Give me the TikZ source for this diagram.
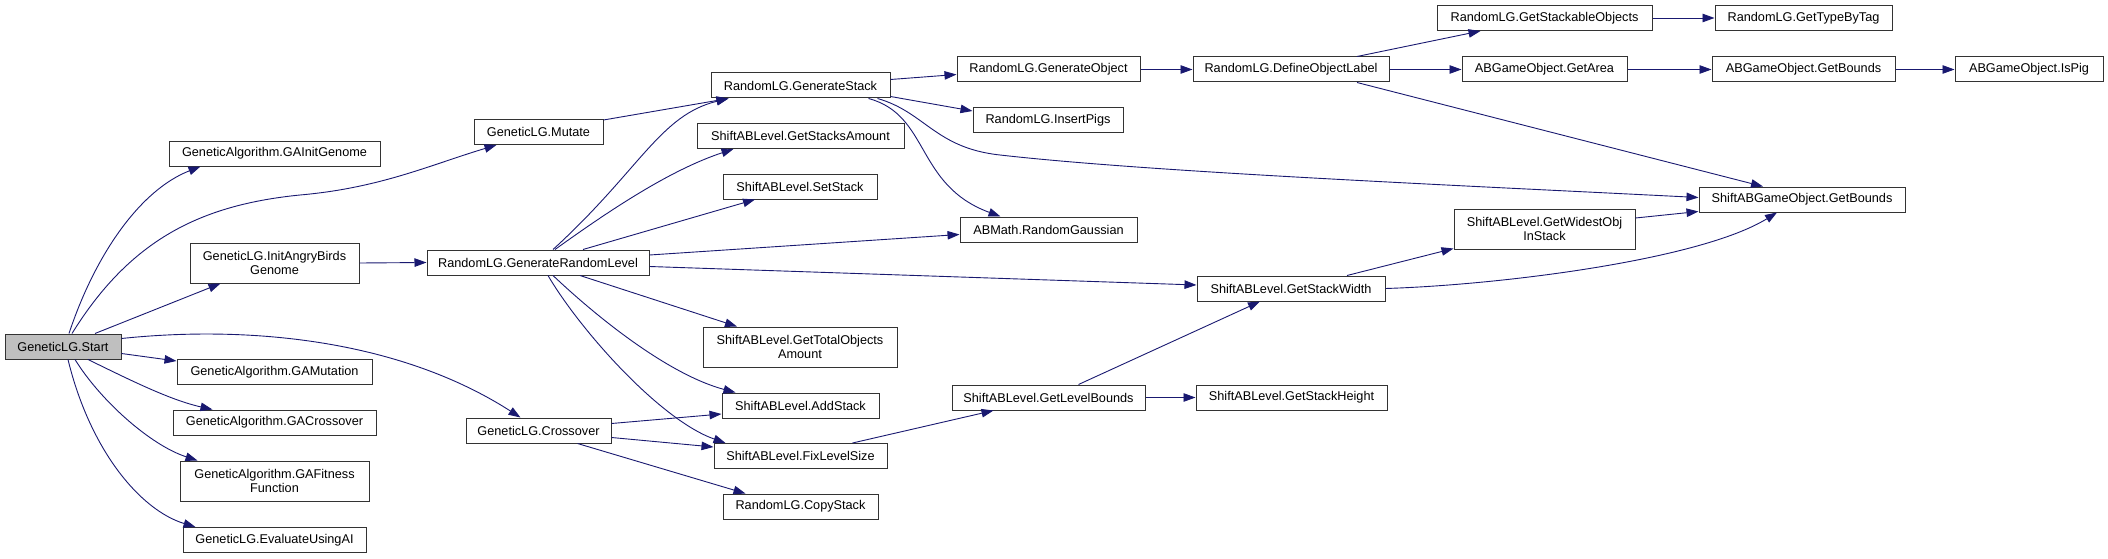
\documentclass[tikz,border=0pt]{standalone}
\usepackage{fontspec}
\setmainfont{Liberation Sans}
\usepackage{tikz}
\usetikzlibrary{arrows.meta}
\definecolor{edgeblue}{HTML}{191970}
\definecolor{rootgray}{HTML}{BFBFBF}

\begin{document}
\begin{tikzpicture}[
    x=1pt, y=-1pt,
    box/.style={
        rectangle, draw=black!80, line width=1pt, fill=white,
        inner sep=0pt, minimum height=25pt,
        text centered, font=\fontsize{12.7}{14}\selectfont
    },
    tall/.style={box, minimum height=40pt, align=center},
    root/.style={box, fill=rootgray},
    arr/.style={-{Triangle[length=12pt, width=8.5pt]}, edgeblue, line width=0.9pt},
]
\useasboundingbox (0,0) rectangle (2108,559);

%% ---- ROOT ----
\node[root, minimum width=116pt] (start) at (63,346.5) {GeneticLG.Start};

%% ---- FIRST CALLS ----
\node[box, minimum width=211pt]  (gainit)  at (274.5,153.5) {GeneticAlgorithm.GAInitGenome};
\node[tall, minimum width=169pt] (initab)  at (274.5,263)   {GeneticLG.InitAngryBirds\\Genome};
\node[box, minimum width=195pt]  (gamut)   at (274.5,372)   {GeneticAlgorithm.GAMutation};
\node[box, minimum width=203pt]  (gacross) at (274.5,422.5) {GeneticAlgorithm.GACrossover};
\node[tall, minimum width=189pt] (gafit)   at (274.5,481)   {GeneticAlgorithm.GAFitness\\Function};
\node[box, minimum width=183pt]  (evalai)  at (274.5,540)   {GeneticLG.EvaluateUsingAI};

%% ---- GENETIC LG ----
\node[box, minimum width=129pt] (mutate)    at (538.5,132)   {GeneticLG.Mutate};
\node[box, minimum width=222pt] (genrand)   at (538,262.5)   {RandomLG.GenerateRandomLevel};
\node[box, minimum width=145pt] (crossover) at (538.5,430.5) {GeneticLG.Crossover};

%% ---- LEVEL CALLS ----
\node[box, minimum width=179pt]  (genstack)  at (800.5,85.5)  {RandomLG.GenerateStack};
\node[box, minimum width=207pt]  (stacksamt) at (800.5,136)   {ShiftABLevel.GetStacksAmount};
\node[box, minimum width=154pt]  (setstack)  at (800,186.5)   {ShiftABLevel.SetStack};
\node[tall, minimum width=194pt] (totalobj)  at (800,347)     {ShiftABLevel.GetTotalObjects\\Amount};
\node[box, minimum width=157pt]  (addstack)  at (800.5,405.5) {ShiftABLevel.AddStack};
\node[box, minimum width=173pt]  (fixlevel)  at (800.5,456)   {ShiftABLevel.FixLevelSize};
\node[box, minimum width=155pt]  (copystack) at (800.5,506.5) {RandomLG.CopyStack};

%% ---- STACK CALLS ----
\node[box, minimum width=183pt] (genobj)      at (1048.5,69.5)  {RandomLG.GenerateObject};
\node[box, minimum width=150pt] (insertpigs)  at (1048,120)     {RandomLG.InsertPigs};
\node[box, minimum width=177pt] (gauss)       at (1048.5,229.5) {ABMath.RandomGaussian};
\node[box, minimum width=193pt] (levelbounds) at (1048.5,397.5) {ShiftABLevel.GetLevelBounds};

\node[box, minimum width=196pt] (deflabel)    at (1291,69.5)    {RandomLG.DefineObjectLabel};
\node[box, minimum width=188pt] (stackwidth)  at (1291,288.5)   {ShiftABLevel.GetStackWidth};
\node[box, minimum width=191pt] (stackheight) at (1291.5,397.5) {ShiftABLevel.GetStackHeight};

%% ---- OBJECTS ----
\node[box, minimum width=215pt]  (stackable) at (1544.5,18)   {RandomLG.GetStackableObjects};
\node[box, minimum width=165pt]  (getarea)   at (1544.5,69.5) {ABGameObject.GetArea};
\node[tall, minimum width=181pt] (widest)    at (1544.5,229)  {ShiftABLevel.GetWidestObj\\InStack};

\node[box, minimum width=177pt] (typebytag) at (1803.5,18)   {RandomLG.GetTypeByTag};
\node[box, minimum width=183pt] (abbounds)  at (1803.5,69.5) {ABGameObject.GetBounds};
\node[box, minimum width=206pt] (sgobounds) at (1802,199.5)  {ShiftABGameObject.GetBounds};
\node[box, minimum width=148pt] (ispig)     at (2029,69.5)   {ABGameObject.IsPig};

%% ---- FROM START ----
\draw[arr] ([xshift=6pt]start.north) .. controls (95,255) and (140,190) .. ([xshift=-74pt]gainit.south);
\draw[arr] ([xshift=9pt]start.north) .. controls (130,240) and (200,205) .. (300,195)
    .. controls (380,188) and (430,165) .. ([xshift=-42pt]mutate.south);
\draw[arr] ([xshift=32pt]start.north) -- ([xshift=-54pt]initab.south);
\draw[arr] ([yshift=8pt]start.east) .. controls (250,325) and (400,340) .. ([xshift=-18pt]crossover.north);
\draw[arr] ([yshift=-7pt]start.east) -- ([yshift=11pt]gamut.west);
\draw[arr] ([xshift=25pt]start.south) .. controls (130,380) and (170,400) .. ([xshift=-62pt]gacross.north);
\draw[arr] ([xshift=12pt]start.south) .. controls (100,400) and (150,445) .. ([xshift=-77pt]gafit.north);
\draw[arr] ([xshift=5pt]start.south) .. controls (90,450) and (140,510) .. ([xshift=-79pt]evalai.north);

\draw[arr] (initab.east) -- (genrand.west);

%% ---- MUTATE / RANDOM LEVEL ----
\draw[arr] ([yshift=12pt]mutate.east) -- ([xshift=-72pt]genstack.south);
\draw[arr] ([xshift=15pt]genrand.north) .. controls (640,170) and (660,115) .. ([xshift=-72pt]genstack.south);
\draw[arr] ([xshift=17pt]genrand.north) .. controls (610,210) and (670,170) .. ([xshift=-67pt]stacksamt.south);
\draw[arr] ([xshift=45pt]genrand.north) -- ([xshift=-45pt]setstack.south);
\draw[arr] ([yshift=7.5pt]genrand.east) -- ([yshift=-5pt]gauss.west);
\draw[arr] ([yshift=-4pt]genrand.east) -- ([yshift=3.5pt]stackwidth.west);
\draw[arr] ([xshift=42pt]genrand.south) -- ([xshift=-63pt]totalobj.north);
\draw[arr] ([xshift=15pt]genrand.south) .. controls (600,320) and (670,375) .. ([xshift=-65pt]addstack.north);
\draw[arr] ([xshift=10pt]genrand.south) .. controls (580,330) and (660,420) .. ([xshift=-75pt]fixlevel.north);

%% ---- CROSSOVER ----
\draw[arr] ([yshift=7pt]crossover.east) -- ([yshift=-8.5pt]addstack.west);
\draw[arr] ([yshift=-7pt]crossover.east) -- ([yshift=9pt]fixlevel.west);
\draw[arr] ([xshift=39pt]crossover.south) -- ([xshift=-55pt]copystack.north);

%% ---- GENERATE STACK ----
\draw[arr] ([yshift=6pt]genstack.east) -- ([yshift=-5pt]genobj.west);
\draw[arr] ([yshift=-11pt]genstack.east) -- ([yshift=9pt]insertpigs.west);
\draw[arr] ([xshift=68pt]genstack.south) .. controls (930,115) and (915,185) .. ([xshift=-48pt]gauss.north);
\draw[arr] ([xshift=77pt]genstack.south) .. controls (925,112) and (935,148) .. (1000,155)
    .. controls (1150,172) and (1450,185) .. ([yshift=2pt]sgobounds.west);

\draw[arr] (genobj.east) -- (deflabel.west);
\draw[arr] ([xshift=66pt]deflabel.north) -- ([xshift=-64pt]stackable.south);
\draw[arr] (deflabel.east) -- (getarea.west);
\draw[arr] ([xshift=66pt]deflabel.south) -- ([xshift=-39pt]sgobounds.north);
\draw[arr] (stackable.east) -- (typebytag.west);
\draw[arr] (getarea.east) -- (abbounds.west);
\draw[arr] (abbounds.east) -- (ispig.west);

%% ---- LEVEL BOUNDS ----
\draw[arr] ([xshift=52pt]fixlevel.north) -- ([xshift=-55pt]levelbounds.south);
\draw[arr] ([xshift=30pt]levelbounds.north) -- ([xshift=-31pt]stackwidth.south);
\draw[arr] (levelbounds.east) -- (stackheight.west);
\draw[arr] ([xshift=56pt]stackwidth.north) -- ([yshift=1pt]widest.south west);
\draw[arr] (stackwidth.east) .. controls (1500,285) and (1700,260) .. ([xshift=-25pt]sgobounds.south);
\draw[arr] ([yshift=11pt]widest.east) -- ([yshift=1pt]sgobounds.south west);

\end{tikzpicture}
\end{document}
